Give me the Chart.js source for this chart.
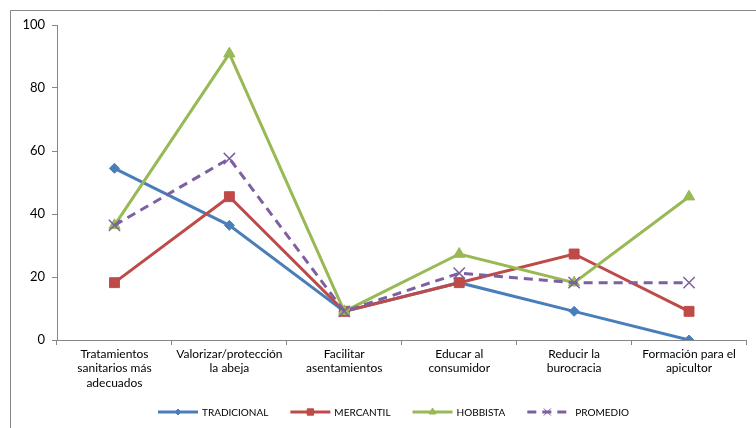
<!DOCTYPE html>
<html>
<head>
<meta charset="utf-8">
<script src="https://cdn.jsdelivr.net/npm/chart.js@4.4.1/dist/chart.umd.min.js"></script>
<style>
  body { margin: 0; background: #fff; }
  canvas { display: block; }
</style>
</head>
<body>
<canvas id="chart" width="756" height="428"></canvas>
<script>
// categories (multi-line labels as in the original)
const categories = [
    ['Tratamientos', 'sanitarios más', 'adecuados'],
    ['Valorizar/protección', 'la abeja'],
    ['Facilitar', 'asentamientos'],
    ['Educar al', 'consumidor'],
    ['Reducir la', 'burocracia'],
    ['Formación para el', 'apicultor']
];

const tradicional = [54.5, 36.4, 9.1, 18.2, 9.1, 0];
const mercantil   = [18.2, 45.5, 9.1, 18.2, 27.3, 9.1];
const hobbista    = [36.4, 90.9, 9.1, 27.3, 18.2, 45.5];
const promedio    = [36.4, 57.6, 9.1, 21.2, 18.2, 18.2];

const yTicks = [0, 20, 40, 60, 80, 100];

const axisGray = '#868686';
const fontFamily = 'Lato, "Open Sans", sans-serif';

// outer frame + white background
const framePlugin = {
    id: 'frame',
    beforeDraw(chart) {
        const ctx = chart.ctx;
        ctx.save();
        ctx.fillStyle = '#fff';
        ctx.fillRect(0, 0, chart.width, chart.height);
        ctx.strokeStyle = axisGray;
        ctx.lineWidth = 1;
        ctx.beginPath();
        ctx.moveTo(10.5, chart.height + 2);
        ctx.lineTo(10.5, 10.5);
        ctx.lineTo(chart.width + 2, 10.5);
        ctx.stroke();
        ctx.restore();
    }
};

// Excel-like legend: short line with the marker in the middle
const legendPlugin = {
    id: 'excelLegend',
    afterDraw(chart) {
        const ctx = chart.ctx;
        const y = 412;
        let x = 158;
        ctx.save();
        ctx.font = '10px ' + fontFamily;
        ctx.textBaseline = 'middle';
        chart.data.datasets.forEach(ds => {
            ctx.strokeStyle = ds.borderColor;
            ctx.lineWidth = 3;
            ctx.setLineDash(ds.borderDash || []);
            ctx.beginPath();
            ctx.moveTo(x, y);
            ctx.lineTo(x + 40, y);
            ctx.stroke();
            ctx.setLineDash([]);
            ctx.fillStyle = ds.borderColor;
            ctx.strokeStyle = ds.borderColor;
            ctx.lineWidth = ds.pointStyle === 'crossRot' ? 1 : 1;
            Chart.helpers.drawPoint(ctx, {
                pointStyle: ds.pointStyle,
                radius: ds.legendRadius,
                borderWidth: 1,
                rotation: 0
            }, x + 20, y);
            const tx = x + (ds.pointStyle === 'crossRot' ? 48 : 44);
            ctx.fillStyle = '#000';
            ctx.fillText(ds.label, tx, y + 1);
            x = tx + ctx.measureText(ds.label).width + 22;
        });
        ctx.restore();
    }
};

function line(label, data, color, style, radius, legendRadius, order, dash) {
    return {
        label: label,
        data: data,
        borderColor: color,
        backgroundColor: color,
        borderWidth: 3,
        borderDash: dash,
        pointStyle: style,
        pointRadius: radius,
        pointBorderWidth: style === 'crossRot' ? 1.5 : 1,
        pointBackgroundColor: color,
        pointBorderColor: color,
        legendRadius: legendRadius,
        tension: 0,
        order: order
    };
}

new Chart(document.getElementById('chart'), {
    type: 'line',
    data: {
        labels: categories,
        datasets: [
            line('TRADICIONAL', tradicional, '#4A7EBB', 'rectRot', 5, 3, 4),
            line('MERCANTIL', mercantil, '#BE4B48', 'rect', 7, 4.5, 3),
            line('HOBBISTA', hobbista, '#98B954', 'triangle', 6.5, 4, 2),
            line('PROMEDIO', promedio, '#7D60A0', 'crossRot', 8, 5, 1, [9, 6])
        ]
    },
    options: {
        responsive: false,
        animation: false,
        layout: { padding: { top: 25, right: 2, bottom: 0, left: 0 } },
        plugins: {
            legend: { display: false },
            tooltip: { enabled: false }
        },
        scales: {
            x: {
                offset: true,
                grid: {
                    offset: true,
                    drawOnChartArea: false,
                    drawTicks: true,
                    tickLength: 5,
                    color: axisGray
                },
                border: { color: axisGray, width: 1 },
                ticks: {
                    color: '#000',
                    font: { family: fontFamily, size: 12 },
                    padding: 2,
                    maxRotation: 0,
                    autoSkip: false
                },
                afterFit(scale) { scale.height = 88; }
            },
            y: {
                min: 0,
                max: 100,
                grid: {
                    drawOnChartArea: false,
                    drawTicks: true,
                    tickLength: 5,
                    color: axisGray
                },
                border: { color: axisGray, width: 1 },
                ticks: {
                    stepSize: 20,
                    color: '#000',
                    font: { family: fontFamily, size: 13 },
                    padding: 7,
                    callback: v => yTicks.includes(v) ? v : ''
                },
                afterFit(scale) { scale.width = 57; }
            }
        }
    },
    plugins: [framePlugin, legendPlugin]
});
</script>
</body>
</html>
